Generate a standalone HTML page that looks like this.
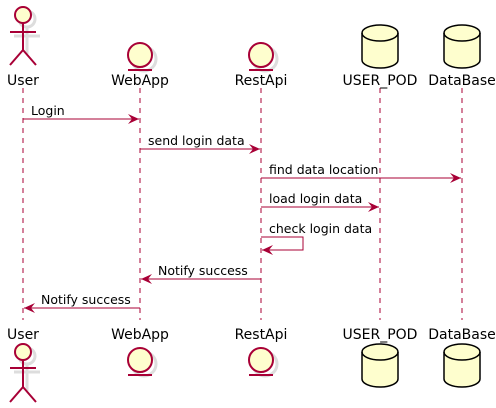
<!DOCTYPE html>
<html><head><style>
html,body{margin:0;padding:0;background:#fff;}
svg{display:block}
text{font-family:"DejaVu Sans","Liberation Sans",sans-serif;fill:#000}
</style></head><body>
<svg width="496" height="408" viewBox="0 0 496 408" xmlns="http://www.w3.org/2000/svg">
<defs>
<marker id="a" markerWidth="12" markerHeight="10" refX="11" refY="5" orient="auto" markerUnits="userSpaceOnUse">
<path d="M0,0 L11,5 L0,10 L4,5 Z" fill="#A80036"/>
</marker>
</defs>
<g stroke="#A80036" stroke-width="1" stroke-dasharray="5,5">
<line x1="23" y1="88" x2="23" y2="320"/>
<line x1="140" y1="88" x2="140" y2="320"/>
<line x1="261" y1="88" x2="261" y2="320"/>
<line x1="380" y1="88" x2="380" y2="320"/>
<line x1="462" y1="88" x2="462" y2="320"/>
</g>
<g fill="none" stroke="#ddd" stroke-width="3" transform="translate(4,4)">
<circle cx="23" cy="15" r="8"/><line x1="23" y1="23" x2="23" y2="50"/><line x1="10" y1="32" x2="36" y2="32"/>
<circle cx="23" cy="352" r="8"/><line x1="23" y1="360" x2="23" y2="387"/><line x1="10" y1="368" x2="36" y2="368"/>
<circle cx="140" cy="55" r="12"/><circle cx="261" cy="55" r="12"/>
<circle cx="140" cy="360" r="12"/><circle cx="261" cy="360" r="12"/>
</g>
<g fill="#FEFECE" stroke="#A80036" stroke-width="2">
<circle cx="23" cy="15" r="8"/>
<line x1="23" y1="23" x2="23" y2="50"/>
<line x1="10" y1="32" x2="36" y2="32"/>
<path d="M10,65 L23,50 L36,65" fill="none"/>
<circle cx="23" cy="352" r="8"/>
<line x1="23" y1="360" x2="23" y2="387"/>
<line x1="10" y1="368" x2="36" y2="368"/>
<path d="M10,402 L23,387 L36,402" fill="none"/>
<circle cx="140" cy="55" r="12"/>
<line x1="128" y1="70" x2="152" y2="70"/>
<circle cx="261" cy="55" r="12"/>
<line x1="249" y1="70" x2="273" y2="70"/>
<circle cx="140" cy="360" r="12"/>
<line x1="128" y1="375" x2="152" y2="375"/>
<circle cx="261" cy="360" r="12"/>
<line x1="249" y1="375" x2="273" y2="375"/>
</g>
<g fill="#FEFECE" stroke="#000" stroke-width="1.5">
<path d="M362,33 a18,8 0 0 1 36,0 v27 a18,8 0 0 1 -36,0 Z"/>
<path d="M362,33 a18,8 0 0 0 36,0" fill="none"/>
<path d="M444,33 a18,8 0 0 1 36,0 v27 a18,8 0 0 1 -36,0 Z"/>
<path d="M444,33 a18,8 0 0 0 36,0" fill="none"/>
<path d="M362,352 a18,8 0 0 1 36,0 v27 a18,8 0 0 1 -36,0 Z"/>
<path d="M362,352 a18,8 0 0 0 36,0" fill="none"/>
<path d="M444,352 a18,8 0 0 1 36,0 v27 a18,8 0 0 1 -36,0 Z"/>
<path d="M444,352 a18,8 0 0 0 36,0" fill="none"/>
</g>
<g font-size="14" text-anchor="middle">
<text x="23" y="85">User</text>
<text x="140" y="85">WebApp</text>
<text x="261" y="85">RestApi</text>
<text x="380" y="85">USER_POD</text>
<text x="462" y="85">DataBase</text>
<text x="23" y="339">User</text>
<text x="140" y="339">WebApp</text>
<text x="261" y="339">RestApi</text>
<text x="380" y="339">USER_POD</text>
<text x="462" y="339">DataBase</text>
</g>
<g stroke="#A80036" stroke-width="1" fill="none" marker-end="url(#a)">
<line x1="23" y1="119" x2="139" y2="119"/>
<line x1="140" y1="149" x2="260" y2="149"/>
<line x1="261" y1="178" x2="461" y2="178"/>
<line x1="261" y1="207" x2="379" y2="207"/>
<path d="M261,237 H303 V250 H262"/>
<line x1="261" y1="279" x2="141" y2="279"/>
<line x1="140" y1="308" x2="24" y2="308"/>
</g>
<g font-size="12.5">
<text x="31" y="115">Login</text>
<text x="148" y="145">send login data</text>
<text x="269" y="174">find data location</text>
<text x="269" y="203">load login data</text>
<text x="269" y="233">check login data</text>
<text x="158" y="275">Notify success</text>
<text x="41" y="304">Notify success</text>
</g>
</svg>
</body></html>
